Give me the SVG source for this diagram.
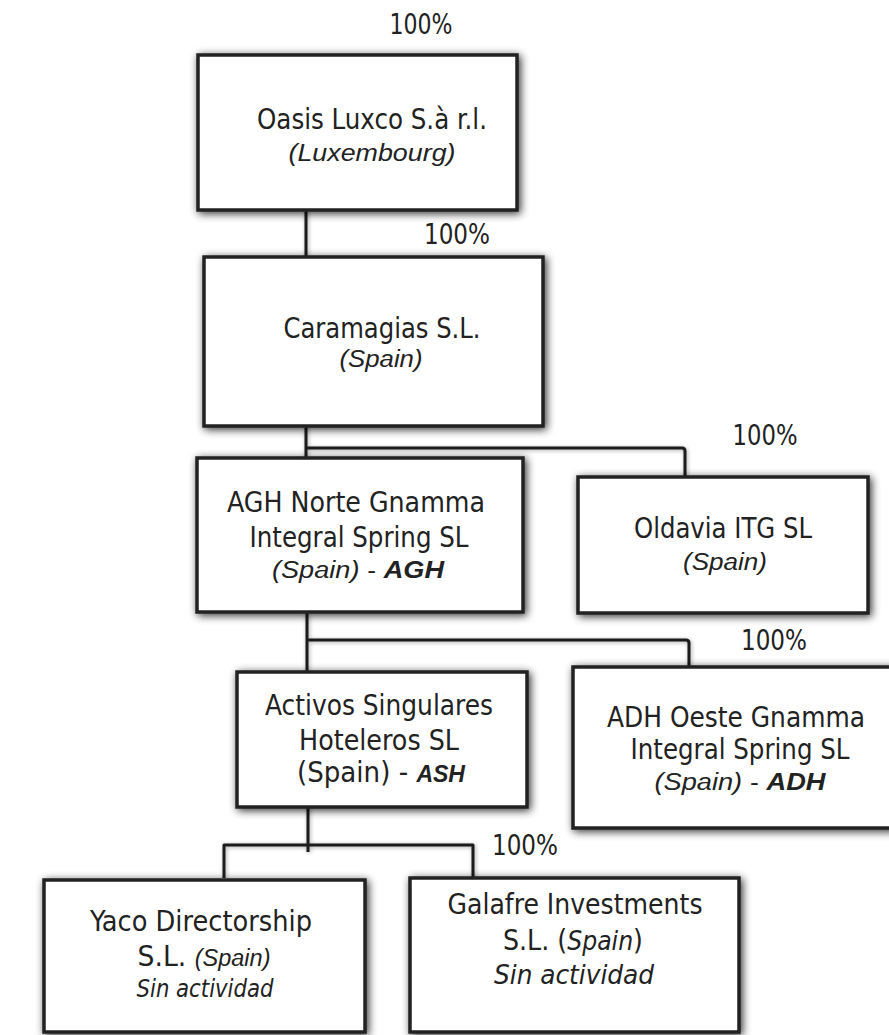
<svg xmlns="http://www.w3.org/2000/svg" width="889" height="1035" viewBox="0 0 889 1035">
<defs>
<filter id="sh" x="-15%" y="-15%" width="130%" height="130%">
<feGaussianBlur in="SourceAlpha" stdDeviation="4"/>
<feOffset dx="2" dy="2"/>
<feComponentTransfer><feFuncA type="linear" slope="0.8"/></feComponentTransfer>
<feMerge><feMergeNode/><feMergeNode in="SourceGraphic"/></feMerge>
</filter>
<filter id="lsh" x="-20%" y="-20%" width="140%" height="140%">
<feGaussianBlur in="SourceAlpha" stdDeviation="2"/>
<feOffset dx="1" dy="1"/>
<feComponentTransfer><feFuncA type="linear" slope="0.35"/></feComponentTransfer>
<feMerge><feMergeNode/><feMergeNode in="SourceGraphic"/></feMerge>
</filter>
</defs>
<style>
.box{fill:#fff;stroke:#222;stroke-width:3.5;filter:url(#sh)}
.con{fill:none;stroke:#1a1a1a;stroke-width:3;stroke-linejoin:round}
text{fill:#222;text-anchor:middle}
.n{font-family:"Liberation Sans Narrow","Arial Narrow","DejaVu Sans Condensed",sans-serif;font-size:29px}
.p{font-family:"Liberation Sans Narrow","Arial Narrow","DejaVu Sans Condensed",sans-serif;font-size:28px}
.c{font-family:"Liberation Sans",Arial,sans-serif;font-style:italic;font-size:23px}
.d{font-family:"Liberation Sans Narrow","Arial Narrow","DejaVu Sans Condensed",sans-serif;font-size:23px}
.i{font-family:"Liberation Sans Narrow","Arial Narrow","DejaVu Sans Condensed",sans-serif;font-style:italic}
.b{font-family:"Liberation Sans",Arial,sans-serif;font-style:italic;font-weight:bold;font-size:23px}
</style>
<rect width="889" height="1035" fill="#fff"/>

<g id="connectors" filter="url(#lsh)">
<path class="con" d="M306 210 V257"/>
<path class="con" d="M306 426 V458"/>
<path class="con" d="M306 448 H682 Q685 448 685 451 V477"/>
<path class="con" d="M307 612 V672"/>
<path class="con" d="M307 640 H686 Q689 640 689 643 V667"/>
<path class="con" d="M308 807 V852"/>
<path class="con" d="M224 878 V845 H473 V878"/>
</g>

<g id="pct">
<text class="p" x="421" y="34" textLength="63" lengthAdjust="spacingAndGlyphs">100%</text>
<text class="p" x="457" y="244" textLength="66" lengthAdjust="spacingAndGlyphs">100%</text>
<text class="p" x="765" y="445" textLength="65" lengthAdjust="spacingAndGlyphs">100%</text>
<text class="p" x="774" y="650" textLength="66" lengthAdjust="spacingAndGlyphs">100%</text>
<text class="p" x="525" y="855" textLength="66" lengthAdjust="spacingAndGlyphs">100%</text>
</g>

<g id="oasis">
<rect class="box" x="198" y="55" width="319" height="155"/>
<text class="n" x="372" y="129" textLength="230" lengthAdjust="spacingAndGlyphs">Oasis Luxco S.à r.l.</text>
<text class="c" x="372" y="161" textLength="167" lengthAdjust="spacingAndGlyphs">(Luxembourg)</text>
</g>

<g id="caramagias">
<rect class="box" x="204" y="257" width="339" height="169"/>
<text class="n" x="382" y="338" textLength="197" lengthAdjust="spacingAndGlyphs">Caramagias S.L.</text>
<text class="c" x="381" y="367" textLength="83" lengthAdjust="spacingAndGlyphs">(Spain)</text>
</g>

<g id="agh">
<rect class="box" x="197" y="458" width="326" height="154"/>
<text class="n" x="356" y="512" textLength="258" lengthAdjust="spacingAndGlyphs">AGH Norte Gnamma</text>
<text class="n" x="359" y="547" textLength="219" lengthAdjust="spacingAndGlyphs">Integral Spring SL</text>
<text x="358" y="578" textLength="172" lengthAdjust="spacingAndGlyphs"><tspan class="c">(Spain)</tspan><tspan class="d"> - </tspan><tspan class="b">AGH</tspan></text>
</g>

<g id="oldavia">
<rect class="box" x="578" y="477" width="290" height="136"/>
<text class="n" x="723" y="538" textLength="178" lengthAdjust="spacingAndGlyphs">Oldavia ITG SL</text>
<text class="c" x="725" y="570" textLength="84" lengthAdjust="spacingAndGlyphs">(Spain)</text>
</g>

<g id="activos">
<rect class="box" x="237" y="672" width="290" height="135"/>
<text class="n" x="379" y="715" textLength="228" lengthAdjust="spacingAndGlyphs">Activos Singulares</text>
<text class="n" x="379" y="750" textLength="160" lengthAdjust="spacingAndGlyphs">Hoteleros SL</text>
<text x="381" y="782" textLength="168" lengthAdjust="spacingAndGlyphs"><tspan class="n">(Spain) - </tspan><tspan class="b">ASH</tspan></text>
</g>

<g id="adh">
<rect class="box" x="573" y="667" width="330" height="161"/>
<text class="n" x="736" y="727" textLength="258" lengthAdjust="spacingAndGlyphs">ADH Oeste Gnamma</text>
<text class="n" x="740" y="759" textLength="219" lengthAdjust="spacingAndGlyphs">Integral Spring SL</text>
<text x="740" y="790" textLength="171" lengthAdjust="spacingAndGlyphs"><tspan class="c">(Spain)</tspan><tspan class="d"> - </tspan><tspan class="b">ADH</tspan></text>
</g>

<g id="yaco">
<rect class="box" x="44" y="880" width="321" height="152"/>
<text class="n" x="201" y="931" textLength="222" lengthAdjust="spacingAndGlyphs">Yaco Directorship</text>
<text x="204" y="966" textLength="133" lengthAdjust="spacingAndGlyphs"><tspan class="n">S.L. </tspan><tspan class="c" font-size="21">(Spain)</tspan></text>
<text class="i" x="205" y="997" font-size="25" textLength="137" lengthAdjust="spacingAndGlyphs">Sin actividad</text>
</g>

<g id="galafre">
<rect class="box" x="410" y="878" width="329" height="154"/>
<text class="n" x="575" y="914" textLength="255" lengthAdjust="spacingAndGlyphs">Galafre Investments</text>
<text x="573" y="950" font-size="27" textLength="140" lengthAdjust="spacingAndGlyphs"><tspan class="n" font-size="27">S.L. (</tspan><tspan class="i" font-size="27">Spain</tspan><tspan class="n" font-size="27">)</tspan></text>
<text class="i" x="574" y="984" font-size="27" textLength="160" lengthAdjust="spacingAndGlyphs">Sin actividad</text>
</g>
</svg>
